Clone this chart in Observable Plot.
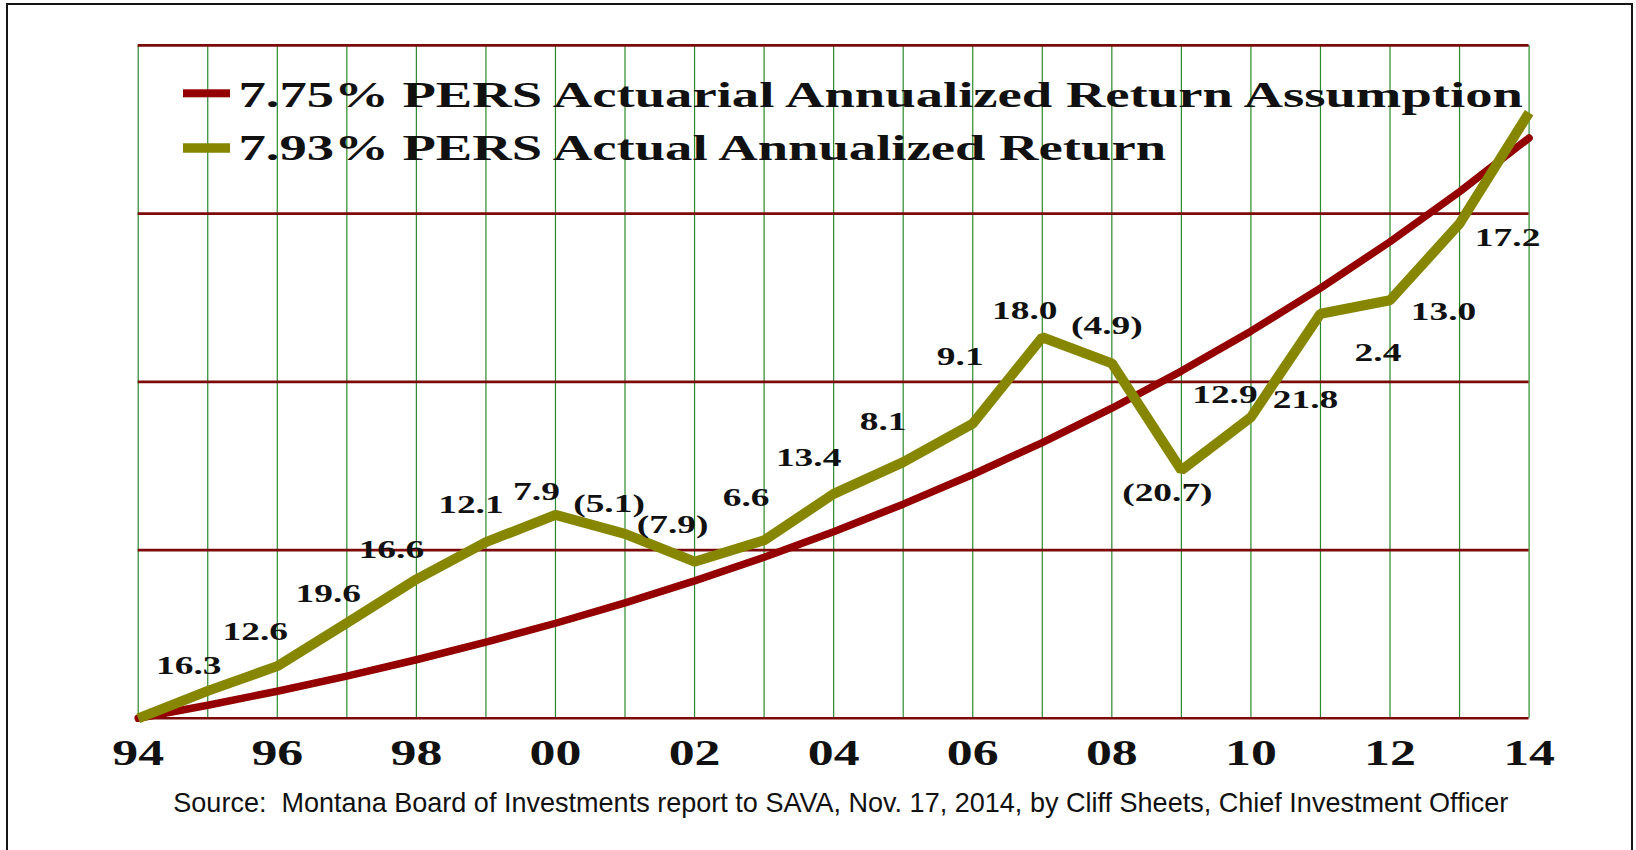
<!DOCTYPE html>
<html>
<head>
<meta charset="utf-8">
<script src="https://cdn.jsdelivr.net/npm/d3@7"></script>
<script src="https://cdn.jsdelivr.net/npm/@observablehq/plot@0.6"></script>
<style>
  html, body { margin: 0; padding: 0; background: #fff; width: 1636px; height: 850px; overflow: hidden; }
  #frame { position: absolute; left: 6px; top: 3px; width: 1623px; height: 1000px; border: 2.5px solid #161616; }
  #chart { position: absolute; left: 0; top: 0; }
  #overlay { position: absolute; left: 0; top: 0; pointer-events: none; }
</style>
</head>
<body>
<div id="frame"></div>
<div id="chart"></div>
<svg id="overlay" width="1636" height="850"></svg>
<script>
// ---------- data ----------
const years = [1994, 1995, 1996, 1997, 1998, 1999, 2000, 2001, 2002, 2003, 2004,
               2005, 2006, 2007, 2008, 2009, 2010, 2011, 2012, 2013, 2014];
// growth of 100 at the 7.75% assumed rate
const assumedValue = [100, 107.75, 116.10, 125.10, 134.79, 145.24, 156.50, 168.62, 181.69, 195.77, 210.95,
                      227.29, 244.91, 263.89, 284.34, 306.38, 330.12, 355.71, 383.28, 412.98, 444.98];
// growth of 100 at the actual PERS returns
const actualValue = [100, 116.3, 131.0, 156.6, 182.6, 204.7, 220.9, 209.6, 193.1, 205.8, 233.4,
                     252.3, 275.2, 326.5, 311.0, 247.5, 279.0, 340.5, 348.5, 394.0, 460.0];
// annual return labels, 1995 .. 2014
const returnLabels = ["16.3", "12.6", "19.6", "16.6", "12.1", "7.9", "(5.1)", "(7.9)", "6.6", "13.4",
                      "8.1", "9.1", "18.0", "(4.9)", "(20.7)", "12.9", "21.8", "2.4", "13.0", "17.2"];
const xTickYears = [1994, 1996, 1998, 2000, 2002, 2004, 2006, 2008, 2010, 2012, 2014];
const yTicks = [100, 200, 300, 400, 500];
const legendLabels = ["7.75% PERS Actuarial Annualized Return Assumption",
                      "7.93% PERS Actual Annualized Return"];
const sourceNote = "Source:  Montana Board of Investments report to SAVA, Nov. 17, 2014, by Cliff Sheets, Chief Investment Officer";

// ---------- layout (pixel offsets of each return label from its point) ----------
const labelOffsets = [[-19, -25], [-22, -34], [-18.5, -29], [-25, -29.5], [-15, -37], [-19, -23], [-16, -30],
                      [-22, -37], [-18, -43], [-25, -36], [-20, -40], [-12.5, -67], [-17.5, -27], [-5, -38],
                      [-14, 23], [-26, -23], [-15, 86], [-12, 52], [-16, 88], [-21.5, 125]];

const RED = "#940000", OLIVE = "#868600", INK = "#111";
const SERIF = "'Liberation Serif', 'Times New Roman', serif";

const assumed = years.map((year, i) => ({year, value: assumedValue[i]}));
const actual = years.map((year, i) => ({year, value: actualValue[i]}));
const labelled = returnLabels.map((label, i) => ({year: years[i + 1], value: actualValue[i + 1], label}));

const plot = Plot.plot({
  width: 1636,
  height: 850,
  marginLeft: 137.7,
  marginRight: 107.4,
  marginTop: 44.9,
  marginBottom: 132.2,
  x: {domain: [1994, 2014]},
  y: {domain: [100, 500], axis: null},
  style: {background: "transparent", fontFamily: SERIF},
  marks: [
    Plot.ruleX(years, {stroke: "#2a8a2a", strokeWidth: 1.2}),
    Plot.ruleY(yTicks, {stroke: "#7d0a0a", strokeWidth: 2.6}),
    Plot.line(assumed, {x: "year", y: "value", stroke: RED, strokeWidth: 7.5, strokeLinejoin: "round"}),
    Plot.line(actual, {x: "year", y: "value", stroke: OLIVE, strokeWidth: 10, strokeLinejoin: "miter", strokeLinecap: "butt"}),
    ...labelled.map((d, i) => Plot.text([d], {
      x: "year", y: "value", text: "label",
      dx: labelOffsets[i][0], dy: labelOffsets[i][1],
      fontSize: 26, fontWeight: "bold", fontFamily: SERIF, fill: INK, lineAnchor: "middle"
    })),
    Plot.axisX({
      ticks: xTickYears,
      tickFormat: d => String(d % 100).padStart(2, "0"),
      tickSize: 0, tickPadding: 21,
      fontSize: 36, fontWeight: "bold", fontFamily: SERIF, fill: INK, label: null
    })
  ]
});
document.getElementById("chart").append(plot);

// widen the serif texts as in the original (stretched) image
d3.select(plot).selectAll("text").each(function() {
  const t = this.getAttribute("transform") || "";
  this.setAttribute("transform", t + " scale(1.44,1)");
});

// ---------- legend and source note ----------
const ov = d3.select("#overlay");
const legendColors = [RED, OLIVE];
const legendRows = [{cy: 93.3, h: 8, base: 106.5, w: 1285}, {cy: 148, h: 9.5, base: 160, w: 928}];
legendLabels.forEach((lab, i) => {
  const r = legendRows[i];
  ov.append("rect").attr("x", 183).attr("y", r.cy - r.h / 2).attr("width", 47).attr("height", r.h).attr("fill", legendColors[i]);
  const t = ov.append("text")
    .attr("font-family", SERIF).attr("font-weight", "bold").attr("font-size", 36).attr("fill", INK)
    .attr("transform", `translate(238.5,${r.base})`)
    .text(lab);
  const bw = t.node().getBBox().width;
  t.attr("transform", `translate(238.5,${r.base}) scale(${r.w / bw},1)`);
});
const src = ov.append("text")
  .attr("font-family", "'Liberation Sans', Arial, sans-serif").attr("font-size", 28).attr("fill", INK)
  .style("white-space", "pre")
  .attr("transform", "translate(173.3,811.5)")
  .text(sourceNote);
const sw = src.node().getBBox().width;
src.attr("transform", `translate(173.3,811.5) scale(${1335.5 / sw},1)`);
</script>
</body>
</html>
